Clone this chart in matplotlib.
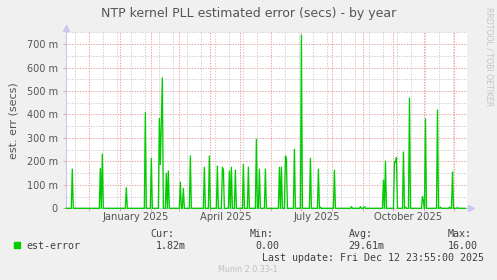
import numpy as np
import pandas as pd
import matplotlib
matplotlib.use("Agg")
import matplotlib.pyplot as plt
import matplotlib.dates as mdates
from matplotlib.ticker import FixedLocator, FuncFormatter

# ==========================================================
# Data (values in milli-seconds)
# ==========================================================

START = pd.Timestamp("2024-11-08")
N_DAYS = 400

spike_dates = [
    "2024-11-14", "2024-12-12", "2024-12-14", "2025-01-07", "2025-01-26",
    "2025-02-01", "2025-02-09", "2025-02-10", "2025-02-11", "2025-02-12",
    "2025-02-16", "2025-02-18", "2025-03-02", "2025-03-05", "2025-03-12",
    "2025-03-26", "2025-03-31", "2025-04-08", "2025-04-13", "2025-04-14",
    "2025-04-20", "2025-04-22", "2025-04-26", "2025-05-04", "2025-05-09",
    "2025-05-17", "2025-05-20", "2025-05-26", "2025-06-09", "2025-06-11",
    "2025-06-15", "2025-06-16", "2025-06-24", "2025-07-01", "2025-07-10",
    "2025-07-18", "2025-07-20", "2025-08-03", "2025-08-20", "2025-08-29",
    "2025-09-02", "2025-09-21", "2025-09-23", "2025-10-02", "2025-10-03",
    "2025-10-04", "2025-10-11", "2025-10-13", "2025-10-17", "2025-10-30",
    "2025-10-31", "2025-11-02", "2025-11-14", "2025-11-17", "2025-11-26",
    "2025-11-29", "2025-12-04",
]

spike_values = [
    167, 170, 231, 88, 409,
    213, 383, 187, 370, 556,
    149, 159, 111, 85, 223,
    175, 223, 180, 175, 165,
    159, 175, 163, 187, 175,
    294, 167, 167, 175, 175,
    223, 213, 251, 737, 213,
    167, 5, 162, 7, 7,
    7, 120, 201, 199, 195,
    217, 240, 5, 470, 51,
    30, 380, 419, 5, 5,
    155, 3,
]

quarter_labels = ["January 2025", "April 2025", "July 2025", "October 2025"]
quarter_months = ["2025-01-01", "2025-04-01", "2025-07-01", "2025-10-01"]

legend_cur = "1.82m"
legend_min = "0.00"
legend_avg = "29.61m"
legend_max = "16.00"

days = pd.date_range(START, periods=N_DAYS, freq="D")
series = pd.Series(0.0, index=days)
series.loc[pd.to_datetime(spike_dates)] = spike_values

# ==========================================================
# Figure
# ==========================================================

W, H = 497, 280
fig = plt.figure(figsize=(W / 100, H / 100), dpi=100)
fig.patch.set_facecolor("#F0F0F0")

px_left, px_right, px_top, px_bottom = 66.3, 466.5, 32.3, 208.3
ax = fig.add_axes([
    px_left / W,
    1 - px_bottom / H,
    (px_right - px_left) / W,
    (px_bottom - px_top) / H,
])
ax.set_facecolor("white")

GREEN = "#00CC00"
RED_GRID = "#F0A0A0"
GRAY_GRID = "#CFCFCF"
AXIS_COL = "#C8C8F0"
TEXT_COL = "#555555"

ax.plot(days, series.values, color=GREEN, linewidth=0.95, zorder=4,
        clip_on=False)

x0 = mdates.date2num(START)
ax.set_xlim(x0, x0 + N_DAYS)
ax.set_ylim(0, 750)

# grid: months red, biweekly gray
month_starts = pd.date_range("2024-12-01", "2025-12-01", freq="MS")
biweekly = pd.date_range("2024-11-17", "2025-12-13", freq="14D")
ax.xaxis.set_major_locator(FixedLocator(mdates.date2num(month_starts)))
ax.xaxis.set_minor_locator(FixedLocator(mdates.date2num(biweekly)))
ax.xaxis.set_major_formatter(FuncFormatter(lambda v, p: ""))

ax.yaxis.set_major_locator(FixedLocator(np.arange(0, 701, 100)))
ax.yaxis.set_minor_locator(FixedLocator(np.arange(50, 751, 100)))
ax.yaxis.set_major_formatter(
    FuncFormatter(lambda v, p: "0" if v == 0 else f"{v:.0f} m")
)

dots = (0, (1.4, 1.4))
ax.grid(which="major", color=RED_GRID, linewidth=0.7, linestyle=dots)
ax.grid(which="minor", color=GRAY_GRID, linewidth=0.7, linestyle=dots)
ax.set_axisbelow(True)

ax.tick_params(axis="x", which="major", length=2.5, width=0.7,
               color=RED_GRID, direction="out")
ax.tick_params(axis="x", which="minor", length=0)
ax.tick_params(axis="y", which="major", length=2.5, width=0.7,
               color=RED_GRID, direction="out", labelsize=7,
               labelcolor=TEXT_COL, pad=3.5)
ax.tick_params(axis="y", which="minor", length=0)

for side in ["top", "right"]:
    ax.spines[side].set_visible(False)
for side in ["left", "bottom"]:
    ax.spines[side].set_color(AXIS_COL)
    ax.spines[side].set_linewidth(0.8)

# axis arrows
ax.plot([0], [1.025], marker="^", markersize=4.5, color=AXIS_COL,
        transform=ax.transAxes, clip_on=False)
ax.plot([1.012], [0], marker=">", markersize=4.5, color=AXIS_COL,
        transform=ax.transAxes, clip_on=False)

# quarter labels, centred in the month
for lab, m in zip(quarter_labels, quarter_months):
    xm = mdates.date2num(pd.Timestamp(m)) + 15
    ax.text(xm, -0.05, lab, transform=ax.get_xaxis_transform(),
            ha="center", va="center", fontsize=7.2, color=TEXT_COL)

ax.set_ylabel("est. err (secs)", fontsize=8, color=TEXT_COL, labelpad=6)

# ==========================================================
# Titles and legend
# ==========================================================

def fx(x):
    return x / W


def fy(y):
    return 1 - y / H


fig.text(fx(248.3), fy(13.5), "NTP kernel PLL estimated error (secs) - by year",
         ha="center", va="center", fontsize=9, color=TEXT_COL)

fig.text(fx(489.5), fy(57), "RRDTOOL / TOBI OETIKER", rotation=-90,
         ha="center", va="center", fontsize=5.6, color="#C4C4C4")

mono = dict(family="DejaVu Sans Mono", fontsize=7.2, color="#404040",
            va="center", ha="left")

fig.patches.append(plt.Rectangle((fx(14), fy(248.3)), 6 / W, 6 / H,
                                 color=GREEN, transform=fig.transFigure))
fig.text(fx(26.7), fy(246.3), "est-error", **mono)

fig.text(fx(150.5), fy(233.7), "Cur:", **mono)
fig.text(fx(155.3), fy(246), legend_cur, **mono)
fig.text(fx(250), fy(233.7), "Min:", **mono)
fig.text(fx(255.7), fy(246), legend_min, **mono)
fig.text(fx(349.3), fy(233.7), "Avg:", **mono)
fig.text(fx(348.7), fy(246), legend_avg, **mono)
fig.text(fx(447.7), fy(233.7), "Max:", **mono)
fig.text(fx(447.3), fy(246), legend_max, **mono)

fig.text(fx(483.5), fy(257.8), "Last update: Fri Dec 12 23:55:00 2025",
         **{**mono, "ha": "right"})

fig.text(fx(248.3), fy(269.3), "Munin 2.0.33-1", ha="center", va="center",
         fontsize=5.8, color="#C0C0C0")

fig.savefig("out.png", dpi=100, facecolor=fig.get_facecolor())
